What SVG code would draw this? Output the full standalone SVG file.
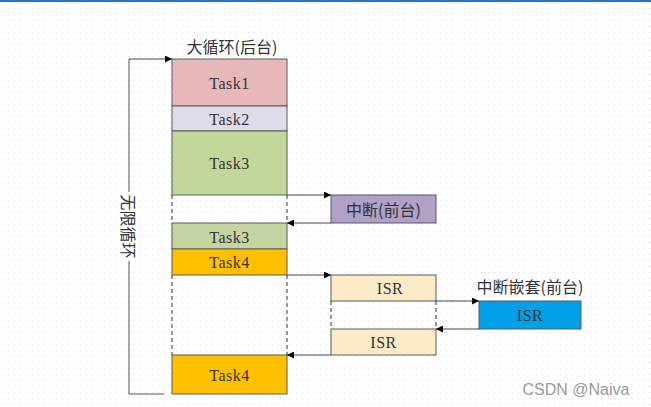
<svg xmlns="http://www.w3.org/2000/svg" width="651" height="407" viewBox="0 0 651 407">
<defs>
<pattern id="dots" width="6" height="6" patternUnits="userSpaceOnUse">
<rect x="2" y="2" width="1" height="1" fill="#d8dee4"/>
</pattern>
<marker id="ah" viewBox="0 0 10 10" refX="10" refY="5" markerWidth="7" markerHeight="7" orient="auto" markerUnits="userSpaceOnUse">
<path d="M0,0 L10,5 L0,10 z" fill="#000"/>
</marker>
<style>
.box{stroke:#5a5a5a;stroke-width:1}
.t{font-family:"Liberation Serif","Noto Sans CJK SC",serif;font-size:16px;letter-spacing:0.5px;fill:#333;text-anchor:middle;dominant-baseline:central}
.cn{font-family:"Noto Sans CJK SC",sans-serif;font-size:16px;fill:#333}
.ln{stroke:#555;stroke-width:1;fill:none}
.ar{stroke:#444;stroke-width:1;fill:none;marker-end:url(#ah)}
.dash{stroke:#333;stroke-width:1;stroke-dasharray:4 3;fill:none}
</style>
</defs>
<rect width="651" height="407" fill="#fff"/>
<rect width="651" height="407" fill="url(#dots)"/>
<rect width="651" height="2" fill="#2f6fc0"/>

<g id="title"><text class="cn" x="232" y="46" text-anchor="middle" dominant-baseline="central">大循环(后台)</text></g>

<g id="task1"><rect class="box" x="172" y="59" width="115" height="47" fill="#e6b8b7"/><text class="t" x="229.5" y="83">Task1</text></g>
<g id="task2"><rect class="box" x="172" y="106" width="115" height="25" fill="#e0dbea"/><text class="t" x="229.5" y="119">Task2</text></g>
<g id="task3"><rect class="box" x="172" y="131" width="115" height="64" fill="#c4d79b"/><text class="t" x="229.5" y="163">Task3</text></g>
<g id="task3b"><rect class="box" x="172" y="223" width="115" height="26" fill="#c4d5a0"/><text class="t" x="229.5" y="237">Task3</text></g>
<g id="task4"><rect class="box" x="172" y="249" width="115" height="26" fill="#ffc000"/><text class="t" x="229.5" y="262">Task4</text></g>
<g id="task4b"><rect class="box" x="172" y="355" width="115" height="39" fill="#ffc000"/><text class="t" x="229.5" y="375">Task4</text></g>

<g id="irq"><rect class="box" x="331" y="195" width="105" height="28" fill="#b1a0c7"/><text class="cn" x="383.5" y="209" text-anchor="middle" dominant-baseline="central">中断(前台)</text></g>
<g id="isr1"><rect class="box" x="331" y="275" width="105" height="26" fill="#fdebc8"/><text class="t" x="390" y="288">ISR</text></g>
<g id="isr2"><rect class="box" x="331" y="329" width="105" height="26" fill="#fdebc8"/><text class="t" x="383.5" y="342">ISR</text></g>
<g id="nested"><rect class="box" x="479" y="301" width="102" height="28" fill="#00a0e9"/><text class="t" x="530" y="315">ISR</text></g>
<g id="nestedlabel"><text class="cn" x="530" y="286" text-anchor="middle" dominant-baseline="central">中断嵌套(前台)</text></g>

<g id="connectors">
<path class="dash" d="M172,195 V223 M287,195 V223 M172,275 V355 M287,275 V355 M331,301 V329 M436,301 V329"/>
<path class="ar" d="M287,195 H331"/>
<path class="ar" d="M331,223 H287"/>
<path class="ar" d="M287,275 H331"/>
<path class="ar" d="M331,355 H287"/>
<path class="ar" d="M436,301 H479"/>
<path class="ar" d="M479,329 H436"/>
<path class="ln" d="M164,394 H129 V59"/>
<path class="ar" d="M129,59 H172"/>
</g>

<g id="loop-label">
<rect x="120" y="192" width="18" height="69" fill="#fff"/>
<text class="cn" transform="translate(129,226.5) rotate(90)" text-anchor="middle" dominant-baseline="central">无限循环</text>
</g>

<g id="watermark"><text x="576" y="389" font-family="'Liberation Sans',sans-serif" font-size="16" fill="#9a9a9a" text-anchor="middle" dominant-baseline="central">CSDN @Naiva</text></g>
</svg>
